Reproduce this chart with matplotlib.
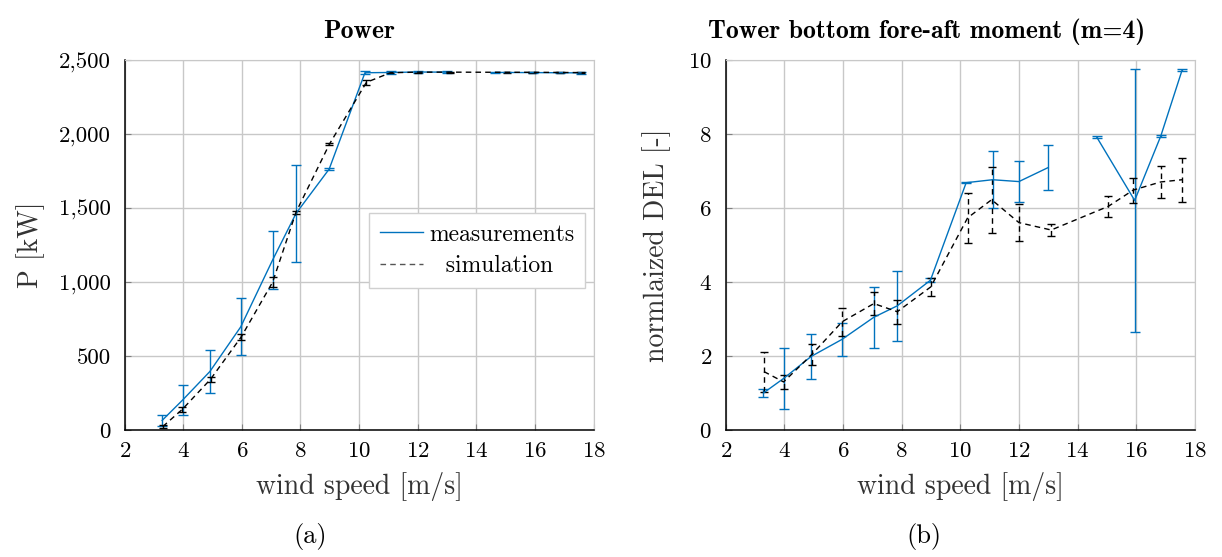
import numpy as np
import matplotlib
matplotlib.use("Agg")
import matplotlib.pyplot as plt
from matplotlib.ticker import FuncFormatter
from matplotlib.lines import Line2D

plt.rcParams['font.family'] = ['cmr10', 'DejaVu Serif']
plt.rcParams['axes.formatter.use_mathtext'] = True

# measurements (gap at 14 m/s)
meas_ws = [3.28, 3.98, 4.91, 5.96, 7.05, 7.85, 8.98, 10.2, 11.1, 12.0, 13.0, 14.0, 14.65, 15.95, 16.84, 17.57]
meas_power = [65, 203, 396, 697, 1150, 1465, 1765, 2416, 2418, 2421, 2420, np.nan, 2418, 2417, 2416, 2415]
meas_power_err = [37, 101, 145, 193, 198, 330, 5, 10, 8, 6, 5, np.nan, 5, 5, 5, 5]
meas_del = [1.0, 1.4, 1.99, 2.45, 3.05, 3.36, 4.05, 6.69, 6.77, 6.72, 7.1, np.nan, 7.93, 6.21, 7.95, 9.74]
meas_del_err = [0.12, 0.83, 0.6, 0.45, 0.82, 0.95, 0.05, 0.02, 0.77, 0.56, 0.61, np.nan, 0.02, 3.55, 0.02, 0.02]

# simulation
sim_ws = [3.3, 3.97, 4.93, 5.97, 7.05, 7.85, 8.99, 10.25, 11.07, 12.0, 13.1, 15.05, 15.9, 16.84, 17.57]
sim_power = [23, 140, 343, 627, 1000, 1474, 1934, 2351, 2416, 2420, 2420, 2419, 2419, 2418, 2417]
sim_power_err = [8, 15, 15, 20, 35, 10, 10, 15, 5, 3, 3, 3, 3, 3, 3]
sim_del = [1.58, 1.3, 2.04, 2.93, 3.42, 3.2, 3.87, 5.74, 6.23, 5.61, 5.41, 6.05, 6.49, 6.71, 6.77]
sim_del_err = [0.54, 0.18, 0.28, 0.38, 0.31, 0.32, 0.25, 0.68, 0.89, 0.49, 0.16, 0.28, 0.34, 0.43, 0.6]

xticks = [2, 4, 6, 8, 10, 12, 14, 16, 18]
power_ticks = [0, 500, 1000, 1500, 2000, 2500]
del_ticks = [0, 2, 4, 6, 8, 10]

BLUE = '#0072bd'
GRID = '#c8c8c8'
DASH = (0, (4, 3))
BOLD = ['cmb10', 'DejaVu Serif']


def style_axes(ax, yticks):
    ax.set_xlim(2, 18)
    ax.set_ylim(yticks[0], yticks[-1])
    ax.set_xticks(xticks)
    ax.set_yticks(yticks)
    ax.grid(True, color=GRID, lw=1.0)
    ax.set_axisbelow(True)
    for s in ['top', 'right']:
        ax.spines[s].set_color(GRID)
    for s in ['left', 'bottom']:
        ax.spines[s].set_color('black')
        ax.spines[s].set_linewidth(1.1)
    ax.tick_params(direction='in', length=4, color='#808080', labelsize=16.5)
    ax.tick_params(axis='x', pad=8)
    ax.tick_params(axis='y', pad=10)
    ax.set_xlabel('wind speed [m/s]', fontsize=20, color='#333333', labelpad=8)


def draw(ax, m_y, m_err, s_y, s_err):
    ax.errorbar(meas_ws, m_y, yerr=m_err, color=BLUE, lw=1.0, elinewidth=1.0,
                capsize=3.5, capthick=1.0)
    eb = ax.errorbar(sim_ws, s_y, yerr=s_err, color='black', lw=1.0, ls=DASH,
                     elinewidth=1.0, capsize=3, capthick=1.0)
    eb[2][0].set_linestyle(DASH)


fig = plt.figure(figsize=(12.22, 5.57), dpi=100)
ax1 = fig.add_axes([0.102, 0.228, 0.3837, 0.6637])
ax2 = fig.add_axes([0.594, 0.228, 0.3837, 0.6637])

draw(ax1, meas_power, meas_power_err, sim_power, sim_power_err)
style_axes(ax1, power_ticks)
ax1.yaxis.set_major_formatter(FuncFormatter(lambda v, p: f"{v:,.0f}"))
ax1.set_ylabel('P [kW]', fontsize=20, color='#333333', labelpad=10)
ax1.set_title('Power', fontsize=18.5, family=BOLD, pad=16)

handles = [Line2D([], [], color=BLUE, lw=1.0),
           Line2D([], [], color='#555555', lw=1.0, ls=DASH)]
leg = ax1.legend(handles, ['measurements', '  simulation'], loc='upper left',
                 bbox_to_anchor=(0.522, 0.587), fontsize=17,
                 fancybox=False, edgecolor='#d0d0d0', framealpha=1, handlelength=1.8,
                 borderpad=0.45, labelspacing=0.4, handletextpad=0.3, borderaxespad=0)
leg.get_frame().set_linewidth(1.0)

draw(ax2, meas_del, meas_del_err, sim_del, sim_del_err)
style_axes(ax2, del_ticks)
ax2.set_ylabel('normlaized DEL [-]', fontsize=20, color='#333333', labelpad=12)
ax2.set_title('Tower bottom fore-aft moment (m=4)', fontsize=18.5, x=0.429,
              family=BOLD, pad=16)

fig.text(0.254, 0.025, '(a)', fontsize=19, ha='center')
fig.text(0.756, 0.025, '(b)', fontsize=19, ha='center')

fig.savefig('out.png', dpi=100)
